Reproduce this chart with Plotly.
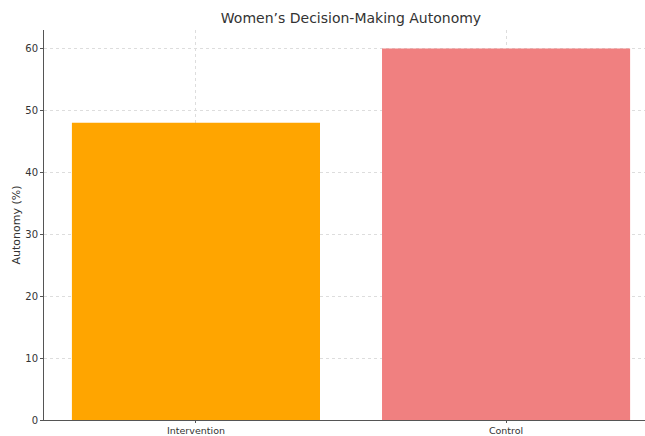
import plotly.graph_objects as go

groups = ["Intervention", "Control"]
autonomy = [48, 60]
bar_colors = ["#FFA500", "#F08080"]
y_ticks = [0, 10, 20, 30, 40, 50, 60]

fig = go.Figure(
    go.Bar(
        x=[0, 1],
        y=autonomy,
        width=0.8,
        marker=dict(color=bar_colors, line=dict(width=0)),
    )
)

fig.update_layout(
    width=645,
    height=436,
    margin=dict(l=44, r=0, t=30, b=16),
    plot_bgcolor="white",
    paper_bgcolor="white",
    font=dict(family="DejaVu Sans", size=10, color="#333333"),
    showlegend=False,
    title=dict(
        text="Women’s Decision-Making Autonomy",
        x=351 / 645,
        xanchor="center",
        y=1 - 18 / 436,
        yanchor="middle",
        font=dict(size=14, color="#333333"),
    ),
)

fig.update_xaxes(
    range=[-0.49, 1.448],
    tickvals=[0, 1],
    ticktext=groups,
    tickfont=dict(size=9.5, color="#333333"),
    showgrid=True,
    gridcolor="#dddddd",
    griddash="dot",
    gridwidth=1,
    showline=True,
    linecolor="#555555",
    linewidth=1,
    ticks="outside",
    ticklen=2,
    tickcolor="#555555",
    automargin=False,
    zeroline=False,
)

fig.update_yaxes(
    range=[0, 63],
    tickvals=y_ticks,
    tickfont=dict(size=10, color="#333333"),
    showgrid=True,
    gridcolor="#dddddd",
    griddash="dot",
    gridwidth=1,
    showline=True,
    linecolor="#555555",
    linewidth=1,
    ticks="outside",
    ticklen=3,
    tickcolor="#555555",
    title=dict(text="Autonomy (%)", standoff=2, font=dict(size=11, color="#333333")),
    automargin=False,
    zeroline=False,
)

fig.write_html("out.html")
